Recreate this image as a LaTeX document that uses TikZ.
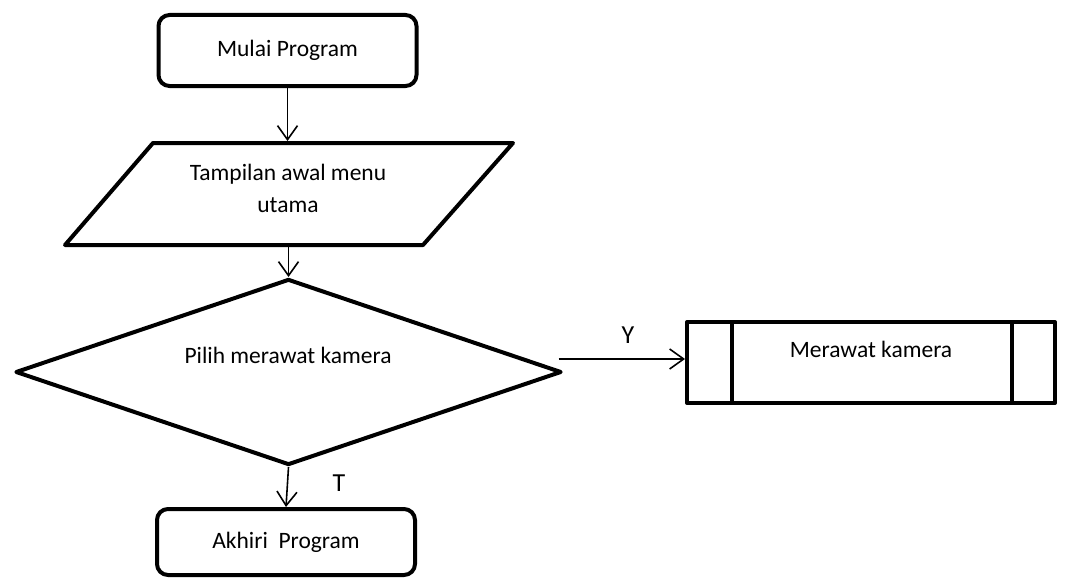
\documentclass[tikz,border=0pt]{standalone}
\usepackage{fontspec}
\setmainfont{Carlito}
\usetikzlibrary{shapes.geometric,arrows.meta}
\begin{document}
\begin{tikzpicture}[x=1pt,y=-1pt,
  shapeline/.style={draw=black,line width=4pt,line join=round},
  txt/.style={font=\fontsize{23.5}{32}\selectfont,align=center,inner sep=0pt},
  terminal/.style={shapeline,txt,rectangle,rounded corners=11pt,minimum width=258pt},
  decision/.style={shapeline,diamond,minimum width=546pt,minimum height=186pt,inner sep=0pt},
  subproc/.style={shapeline,rectangle,minimum width=368pt,minimum height=81pt,inner sep=0pt},
  branch/.style={font=\fontsize{26}{30}\selectfont,inner sep=0pt,anchor=base},
  flow/.style={line width=1.6pt,-{Straight Barb[length=14pt,width=20pt]}}
]
\useasboundingbox (0,0) rectangle (1070,578);

% flowchart blocks
\node[terminal,minimum height=71pt] (start) at (287.5,50.5) {Mulai Program};

% input/output parallelogram
\draw[shapeline] (65,245) -- (153,143) -- (513,143) -- (423,245) -- cycle;
\coordinate (menutop) at (288,141);
\coordinate (menubottom) at (288,247);
\node[txt] (menutext) at (288,188) {Tampilan awal menu\\utama};

\node[decision] (choice) at (288.5,372) {};
\node[txt,anchor=base] (choicetext) at (288,363) {Pilih merawat kamera};
\node[subproc] (sub) at (871,362.5) {};
\draw[line width=4pt] ([xshift=47pt]sub.north west) -- ([xshift=47pt]sub.south west);
\draw[line width=4pt] ([xshift=-45pt]sub.north east) -- ([xshift=-45pt]sub.south east);
\node[txt,anchor=base] (subtext) at (871,357) {Merawat kamera};
\node[terminal,minimum height=66pt] (end) at (286,542) {Akhiri\ \ Program};

% connectors
\draw[flow] (start.south) -- (start.south |- menutop);
\draw[flow] (choice.north |- menubottom) -- (choice.north);
\coordinate (yesstart) at ([xshift=-5pt,yshift=13pt]choice.east);
\draw[flow] (yesstart) -- (yesstart -| sub.west);
\draw[flow] (choice.south) -- (end.north);

% branch labels
\node[branch] (yes) at (628,343) {Y};
\node[branch] (no) at (339,491) {T};
\end{tikzpicture}
\end{document}
